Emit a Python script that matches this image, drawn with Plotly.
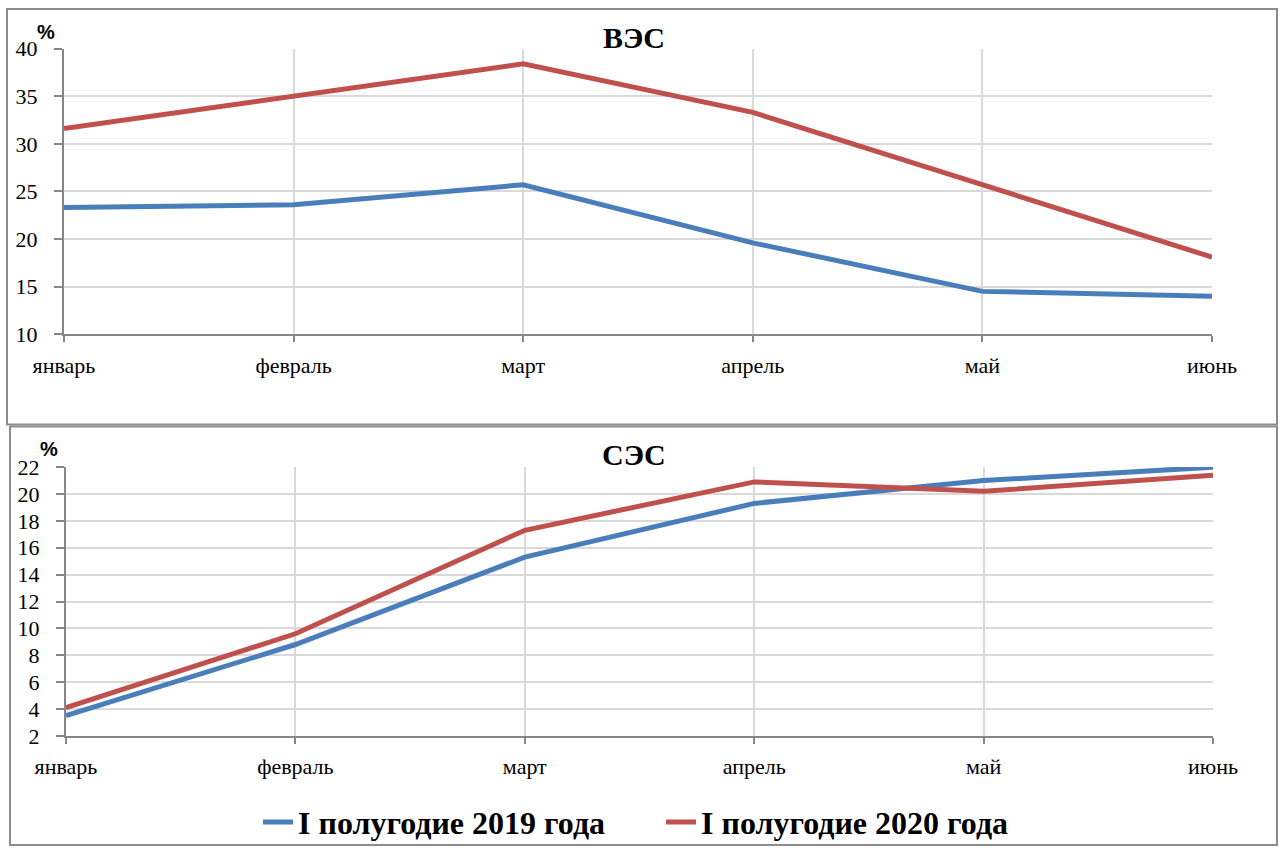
import plotly.graph_objects as go

# Monthly values, first half of the year
months = ["январь", "февраль", "март", "апрель", "май", "июнь"]

wind_2019 = [23.3, 23.6, 25.7, 19.6, 14.5, 14.0]
wind_2020 = [31.6, 35.0, 38.4, 33.3, 25.7, 18.1]

solar_2019 = [3.5, 8.8, 15.3, 19.3, 21.0, 22.0]
solar_2020 = [4.1, 9.6, 17.3, 20.9, 20.2, 21.4]

series_names = ["I полугодие 2019 года", "I полугодие 2020 года"]
colors = ["#4a7ebb", "#c0504d"]

W, H = 1282, 850
SERIF = "Times New Roman, Liberation Serif, DejaVu Serif, serif"
SANS = "Arial, Liberation Sans, DejaVu Sans, sans-serif"


def px_x(x):
    return x / W


def px_y(y):
    return (H - y) / H


fig = go.Figure()

x_idx = list(range(len(months)))

# Wind (top panel)
for vals, name, col in zip([wind_2019, wind_2020], series_names, colors):
    fig.add_trace(go.Scatter(
        x=x_idx, y=vals, mode="lines", name=name,
        line=dict(color=col, width=5), xaxis="x", yaxis="y",
        showlegend=False, cliponaxis=False,
    ))

# Solar (bottom panel)
for vals, name, col in zip([solar_2019, solar_2020], series_names, colors):
    fig.add_trace(go.Scatter(
        x=x_idx, y=vals, mode="lines", name=name,
        line=dict(color=col, width=5), xaxis="x2", yaxis="y2",
        showlegend=True, cliponaxis=False,
    ))

tick_font = dict(family=SERIF, size=22, color="#000000")
grid_col = "#d9d9d9"
axis_col = "#868686"

xaxis_common = dict(
    tickmode="array", tickvals=x_idx, ticktext=months,
    range=[0, 5], showgrid=True, gridcolor=grid_col, gridwidth=2,
    showline=True, linecolor=axis_col, linewidth=2,
    ticks="outside", ticklen=6, tickcolor=axis_col, tickwidth=2,
    tickfont=tick_font, zeroline=False, fixedrange=True,
    automargin=False, ticklabelstandoff=4,
)
yaxis_common = dict(
    showgrid=True, gridcolor=grid_col, gridwidth=2,
    showline=True, linecolor=axis_col, linewidth=2,
    ticks="outside", ticklen=8, tickcolor=axis_col, tickwidth=2,
    tickfont=tick_font, zeroline=False, fixedrange=True,
    automargin=False, ticklabelstandoff=12,
)

fig.update_layout(
    template="none",
    width=W, height=H,
    margin=dict(l=0, r=0, t=0, b=0, pad=0),
    autosize=False,
    font=dict(family=SERIF, color="#000000"),
    paper_bgcolor="white", plot_bgcolor="white",
    xaxis=dict(domain=[px_x(64), px_x(1212)], anchor="y", **xaxis_common),
    yaxis=dict(domain=[px_y(337), px_y(49)], anchor="x",
               range=[10, 40], dtick=5, **yaxis_common),
    xaxis2=dict(domain=[px_x(66), px_x(1213)], anchor="y2", **xaxis_common),
    yaxis2=dict(domain=[px_y(742), px_y(471)], anchor="x2",
                range=[2, 22], dtick=2, **yaxis_common),
    legend=dict(
        orientation="h", x=px_x(258), xanchor="left",
        y=px_y(829), yanchor="middle",
        font=dict(family=SERIF, size=32, color="#000000", weight="bold"),
        bgcolor="rgba(0,0,0,0)", borderwidth=0,
        entrywidth=358, entrywidthmode="pixels",
        tracegroupgap=0,
    ),
    showlegend=True,
)

# Outer frames around each panel
fig.add_shape(type="rect", xref="paper", yref="paper",
              x0=px_x(7), x1=px_x(1277), y0=px_y(428), y1=px_y(9),
              line=dict(color="#8c8c8c", width=2), fillcolor="rgba(0,0,0,0)")
fig.add_shape(type="rect", xref="paper", yref="paper",
              x0=px_x(10), x1=px_x(1277), y0=px_y(852), y1=px_y(430),
              line=dict(color="#8c8c8c", width=2), fillcolor="rgba(0,0,0,0)")

# Panel titles
title_font = dict(family=SERIF, size=30, color="#000000")
fig.add_annotation(text="<b>ВЭС</b>", xref="paper", yref="paper",
                   x=px_x(634), y=px_y(38), xanchor="center", yanchor="middle",
                   showarrow=False, font=title_font)
fig.add_annotation(text="<b>СЭС</b>", xref="paper", yref="paper",
                   x=px_x(634), y=px_y(458), xanchor="center", yanchor="middle",
                   showarrow=False, font=title_font)

# Unit labels
unit_font = dict(family=SANS, size=20, color="#000000")
fig.add_annotation(text="<b>%</b>", xref="paper", yref="paper",
                   x=px_x(46), y=px_y(32), xanchor="center", yanchor="middle",
                   showarrow=False, font=unit_font)
fig.add_annotation(text="<b>%</b>", xref="paper", yref="paper",
                   x=px_x(49), y=px_y(453), xanchor="center", yanchor="middle",
                   showarrow=False, font=unit_font)

fig.write_html("out.html")
